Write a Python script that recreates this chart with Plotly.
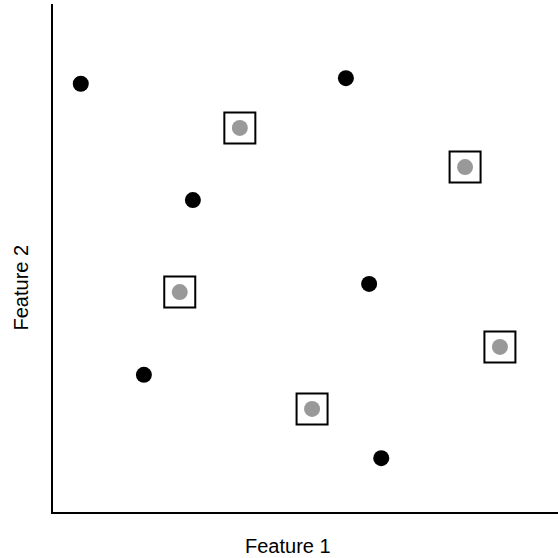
import plotly.graph_objects as go

# Data (arbitrary feature units)
black_x = [0.55, 5.80, 2.77, 6.26, 1.80, 6.50]
black_y = [8.43, 8.54, 6.14, 4.49, 2.70, 1.06]
gray_x = [3.70, 8.16, 2.51, 8.85, 5.13]
gray_y = [7.56, 6.79, 4.33, 3.25, 2.03]
x_title = "Feature 1"
y_title = "Feature 2"

title_font = dict(family="Liberation Sans", size=20, color="#000000")

fig = go.Figure()
fig.add_trace(go.Scatter(x=gray_x, y=gray_y, mode="markers",
                         marker=dict(symbol="square-open", size=31, color="black",
                                     line=dict(width=2, color="black")),
                         hoverinfo="skip"))
fig.add_trace(go.Scatter(x=gray_x, y=gray_y, mode="markers",
                         marker=dict(symbol="circle", size=16, color="#999999",
                                     line=dict(width=0))))
fig.add_trace(go.Scatter(x=black_x, y=black_y, mode="markers",
                         marker=dict(symbol="circle", size=16, color="black",
                                     line=dict(width=0))))

fig.update_layout(
    width=558, height=558,
    margin=dict(l=53, r=0, t=4, b=46),
    plot_bgcolor="white", paper_bgcolor="white",
    showlegend=False,
    font=title_font,
    xaxis=dict(range=[0, 10], showgrid=False, zeroline=False, showticklabels=False,
               ticks="", showline=True, linecolor="black", linewidth=2),
    yaxis=dict(range=[0, 10], showgrid=False, zeroline=False, showticklabels=False,
               ticks="", showline=True, linecolor="black", linewidth=2),
)
fig.add_annotation(text=x_title, xref="paper", yref="paper", x=0.4663, y=-0.0669,
                   xanchor="center", yanchor="middle", showarrow=False, font=title_font)
fig.add_annotation(text=y_title, xref="paper", yref="paper", x=-0.0624, y=0.4429,
                   xanchor="center", yanchor="middle", showarrow=False, textangle=-90,
                   font=title_font)
fig.write_html("out.html", config={"displayModeBar": False},
               post_script="document.body.style.margin='0';")
